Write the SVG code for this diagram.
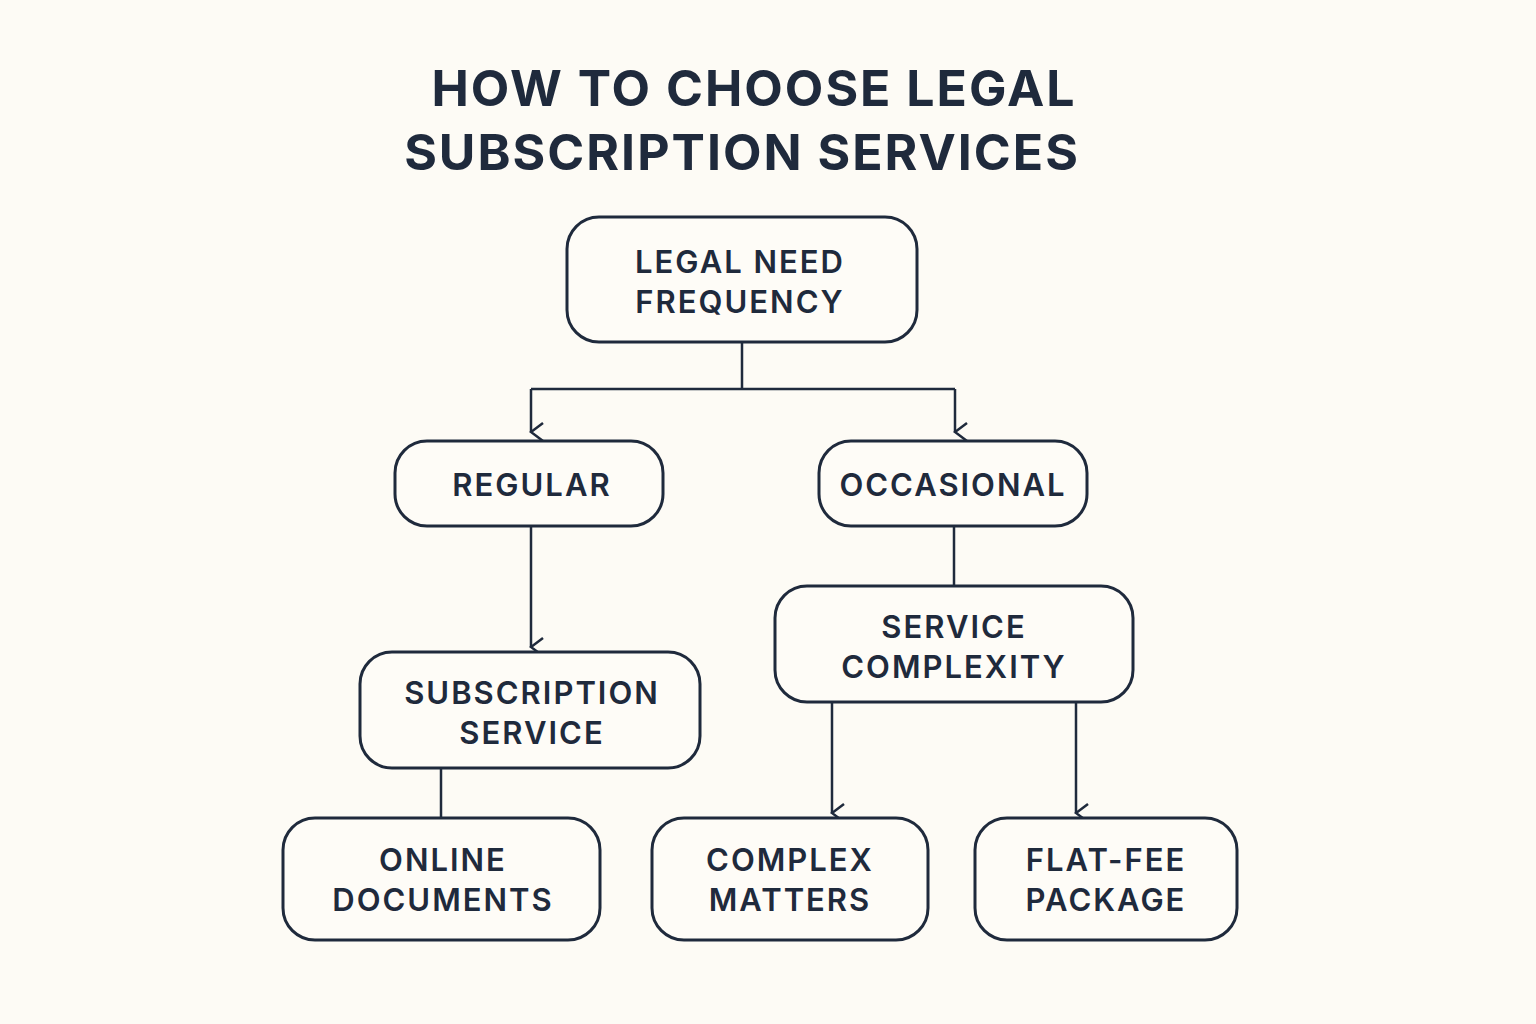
<svg xmlns="http://www.w3.org/2000/svg" width="1536" height="1024" viewBox="0 0 1536 1024">
<style>
.n{fill:#fefcf7;stroke:#1f2a3c;stroke-width:3}
.t{font-family:"Inter","Liberation Sans",sans-serif;font-weight:600;font-size:31px;fill:#1f2a3c;text-anchor:middle;letter-spacing:2px}
.h{font-family:"Inter","Liberation Sans",sans-serif;font-weight:700;font-size:50px;fill:#1f2a3c;text-anchor:middle;letter-spacing:2px}
.c{fill:none;stroke:#1f2a3c;stroke-width:2.5}
</style>
<defs><marker id="a" viewBox="0 0 20 20" refX="10" refY="18" markerWidth="20" markerHeight="20" markerUnits="userSpaceOnUse" orient="auto-start-reverse"><path d="M1,6 L10,18 L19,6" fill="none" stroke="#1f2a3c" stroke-width="2.5"/></marker></defs>
<rect width="1536" height="1024" fill="#fdfbf5"/>
<g id="title"><text class="h" x="754" y="106">HOW TO CHOOSE LEGAL</text><text class="h" x="742" y="170">SUBSCRIPTION SERVICES</text></g>
<g id="connectors">
<path class="c" d="M742,342 V389 M531,389 H955"/>
<path class="c" d="M531,389 V432" marker-end="url(#a)"/>
<path class="c" d="M955,389 V432" marker-end="url(#a)"/>
<path class="c" d="M531,526 V647" marker-end="url(#a)"/>
<path class="c" d="M954,526 V586"/>
<path class="c" d="M441,768 V818"/>
<path class="c" d="M832,702 V813" marker-end="url(#a)"/>
<path class="c" d="M1076,702 V813" marker-end="url(#a)"/>
</g>
<g id="n1"><rect class="n" x="567" y="217" width="350" height="125" rx="32"/><text class="t" x="740" y="273">LEGAL NEED</text><text class="t" x="740" y="313">FREQUENCY</text></g>
<g id="n2"><rect class="n" x="395" y="441" width="268" height="85" rx="32"/><text class="t" x="532" y="496">REGULAR</text></g>
<g id="n3"><rect class="n" x="819" y="441" width="268" height="85" rx="32"/><text class="t" x="953" y="496">OCCASIONAL</text></g>
<g id="n4"><rect class="n" x="360" y="652" width="340" height="116" rx="32"/><text class="t" x="532" y="704">SUBSCRIPTION</text><text class="t" x="532" y="744">SERVICE</text></g>
<g id="n5"><rect class="n" x="775" y="586" width="358" height="116" rx="32"/><text class="t" x="954" y="638">SERVICE</text><text class="t" x="954" y="678">COMPLEXITY</text></g>
<g id="n6"><rect class="n" x="283" y="818" width="317" height="122" rx="32"/><text class="t" x="443" y="871">ONLINE</text><text class="t" x="443" y="911">DOCUMENTS</text></g>
<g id="n7"><rect class="n" x="652" y="818" width="276" height="122" rx="32"/><text class="t" x="790" y="871">COMPLEX</text><text class="t" x="790" y="911">MATTERS</text></g>
<g id="n8"><rect class="n" x="975" y="818" width="262" height="122" rx="32"/><text class="t" x="1106" y="871">FLAT-FEE</text><text class="t" x="1106" y="911">PACKAGE</text></g>
</svg>
